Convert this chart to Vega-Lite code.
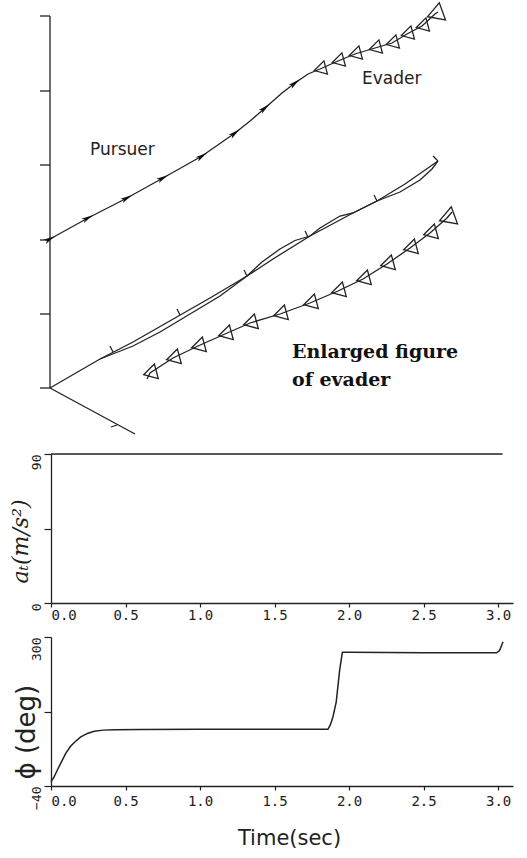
{
  "$schema": "https://vega.github.io/schema/vega-lite/v6.json",
  "background": "white",
  "padding": {"left": 9, "top": 0, "right": 0, "bottom": 4},
  "spacing": 14,
  "config": {
    "view": {"stroke": null},
    "axis": {
      "grid": false,
      "domainColor": "#222",
      "domainWidth": 1.3,
      "tickColor": "#222",
      "tickWidth": 1.2,
      "labelColor": "#222",
      "titleColor": "#222",
      "labelFont": "DejaVu Sans Mono",
      "titleFontWeight": "normal",
      "titleLimit": 400
    }
  },
  "datasets": {
    "frame": [
      {"u": 0, "v": 0, "u2": 0, "v2": 372},
      {"u": -10, "v": 372, "u2": 0, "v2": 372},
      {"u": -10, "v": 297, "u2": 0, "v2": 297},
      {"u": -10, "v": 223, "u2": 0, "v2": 223},
      {"u": -10, "v": 148, "u2": 0, "v2": 148},
      {"u": -10, "v": 74, "u2": 0, "v2": 74},
      {"u": -10, "v": 0, "u2": 0, "v2": 0},
      {"u": 0, "v": 0, "u2": 85, "v2": -46},
      {"u": 61, "v": -39, "u2": 67, "v2": -37},
      {"u": 63, "v": 36, "u2": 60, "v2": 42},
      {"u": 130, "v": 73, "u2": 127, "v2": 79},
      {"u": 197, "v": 112, "u2": 194, "v2": 118},
      {"u": 258, "v": 151, "u2": 255, "v2": 157},
      {"u": 327, "v": 187, "u2": 324, "v2": 193},
      {"u": 388, "v": 227, "u2": 383, "v2": 232}
    ],
    "curves": [
      {"id": "projA", "i": 0, "u": 0, "v": 0},
      {"id": "projA", "i": 1, "u": 50, "v": 29},
      {"id": "projA", "i": 2, "u": 83, "v": 46},
      {"id": "projA", "i": 3, "u": 125, "v": 70},
      {"id": "projA", "i": 4, "u": 160, "v": 90},
      {"id": "projA", "i": 5, "u": 197, "v": 112},
      {"id": "projA", "i": 6, "u": 223, "v": 129},
      {"id": "projA", "i": 7, "u": 260, "v": 152},
      {"id": "projA", "i": 8, "u": 303, "v": 175},
      {"id": "projA", "i": 9, "u": 327, "v": 187},
      {"id": "projA", "i": 10, "u": 355, "v": 204},
      {"id": "projA", "i": 11, "u": 388, "v": 227},
      {"id": "projB", "i": 0, "u": 50, "v": 29},
      {"id": "projB", "i": 1, "u": 83, "v": 42},
      {"id": "projB", "i": 2, "u": 110, "v": 56},
      {"id": "projB", "i": 3, "u": 140, "v": 74},
      {"id": "projB", "i": 4, "u": 170, "v": 92},
      {"id": "projB", "i": 5, "u": 197, "v": 112},
      {"id": "projB", "i": 6, "u": 212, "v": 126},
      {"id": "projB", "i": 7, "u": 230, "v": 139},
      {"id": "projB", "i": 8, "u": 245, "v": 147.5},
      {"id": "projB", "i": 9, "u": 260, "v": 152},
      {"id": "projB", "i": 10, "u": 270, "v": 160},
      {"id": "projB", "i": 11, "u": 290, "v": 172},
      {"id": "projB", "i": 12, "u": 303, "v": 175},
      {"id": "projB", "i": 13, "u": 327, "v": 187},
      {"id": "projB", "i": 14, "u": 350, "v": 196},
      {"id": "projB", "i": 15, "u": 370, "v": 208},
      {"id": "projB", "i": 16, "u": 382, "v": 219},
      {"id": "projB", "i": 17, "u": 388, "v": 227},
      {"id": "pursuer", "i": 0, "u": 0, "v": 149},
      {"id": "pursuer", "i": 1, "u": 38, "v": 170},
      {"id": "pursuer", "i": 2, "u": 77, "v": 190},
      {"id": "pursuer", "i": 3, "u": 113, "v": 210},
      {"id": "pursuer", "i": 4, "u": 152, "v": 232},
      {"id": "pursuer", "i": 5, "u": 185, "v": 255},
      {"id": "pursuer", "i": 6, "u": 200, "v": 267},
      {"id": "pursuer", "i": 7, "u": 215, "v": 280},
      {"id": "pursuer", "i": 8, "u": 232, "v": 295},
      {"id": "pursuer", "i": 9, "u": 245, "v": 305},
      {"id": "pursuer", "i": 10, "u": 258, "v": 314},
      {"id": "evader", "i": 0, "u": 258, "v": 314},
      {"id": "evader", "i": 1, "u": 270, "v": 319},
      {"id": "evader", "i": 2, "u": 288, "v": 327},
      {"id": "evader", "i": 3, "u": 305, "v": 334},
      {"id": "evader", "i": 4, "u": 325, "v": 340},
      {"id": "evader", "i": 5, "u": 342, "v": 345},
      {"id": "evader", "i": 6, "u": 357, "v": 354},
      {"id": "evader", "i": 7, "u": 372, "v": 362},
      {"id": "evader", "i": 8, "u": 385, "v": 374},
      {"id": "evader", "i": 9, "u": 388, "v": 376},
      {"id": "enlarged", "i": 0, "u": 97, "v": 9},
      {"id": "enlarged", "i": 1, "u": 100, "v": 15},
      {"id": "enlarged", "i": 2, "u": 123, "v": 30},
      {"id": "enlarged", "i": 3, "u": 148, "v": 42},
      {"id": "enlarged", "i": 4, "u": 175, "v": 54},
      {"id": "enlarged", "i": 5, "u": 200, "v": 65},
      {"id": "enlarged", "i": 6, "u": 230, "v": 74},
      {"id": "enlarged", "i": 7, "u": 260, "v": 85},
      {"id": "enlarged", "i": 8, "u": 288, "v": 97},
      {"id": "enlarged", "i": 9, "u": 313, "v": 109},
      {"id": "enlarged", "i": 10, "u": 337, "v": 124},
      {"id": "enlarged", "i": 11, "u": 360, "v": 140},
      {"id": "enlarged", "i": 12, "u": 380, "v": 155},
      {"id": "enlarged", "i": 13, "u": 397, "v": 170},
      {"id": "enlarged", "i": 14, "u": 402, "v": 176}
    ],
    "markers": [
      {"track": "pursuer", "role": "path", "u": 0, "v": 149, "heading": 29},
      {"track": "pursuer", "role": "path", "u": 38, "v": 170, "heading": 28},
      {"track": "pursuer", "role": "path", "u": 77, "v": 190, "heading": 29},
      {"track": "pursuer", "role": "path", "u": 113, "v": 210, "heading": 29},
      {"track": "pursuer", "role": "path", "u": 152, "v": 232, "heading": 33},
      {"track": "pursuer", "role": "path", "u": 185, "v": 255, "heading": 38},
      {"track": "pursuer", "role": "path", "u": 215, "v": 280, "heading": 40},
      {"track": "pursuer", "role": "path", "u": 245, "v": 305, "heading": 38},
      {"track": "evader", "role": "path", "u": 270, "v": 319, "heading": 25},
      {"track": "evader", "role": "path", "u": 288, "v": 327, "heading": 24},
      {"track": "evader", "role": "path", "u": 305, "v": 334, "heading": 22},
      {"track": "evader", "role": "path", "u": 325, "v": 340, "heading": 18},
      {"track": "evader", "role": "path", "u": 342, "v": 345, "heading": 20},
      {"track": "evader", "role": "path", "u": 357, "v": 354, "heading": 28},
      {"track": "evader", "role": "path", "u": 372, "v": 362, "heading": 30},
      {"track": "evader", "role": "final", "u": 385, "v": 374, "heading": 40},
      {"track": "enlarged", "role": "path", "u": 100, "v": 15, "heading": 33},
      {"track": "enlarged", "role": "path", "u": 123, "v": 30, "heading": 30},
      {"track": "enlarged", "role": "path", "u": 148, "v": 42, "heading": 26},
      {"track": "enlarged", "role": "path", "u": 175, "v": 54, "heading": 24},
      {"track": "enlarged", "role": "path", "u": 200, "v": 65, "heading": 21},
      {"track": "enlarged", "role": "path", "u": 230, "v": 74, "heading": 19},
      {"track": "enlarged", "role": "path", "u": 260, "v": 85, "heading": 21},
      {"track": "enlarged", "role": "path", "u": 288, "v": 97, "heading": 23},
      {"track": "enlarged", "role": "path", "u": 313, "v": 109, "heading": 27},
      {"track": "enlarged", "role": "path", "u": 337, "v": 124, "heading": 32},
      {"track": "enlarged", "role": "path", "u": 360, "v": 140, "heading": 35},
      {"track": "enlarged", "role": "path", "u": 380, "v": 155, "heading": 37},
      {"track": "enlarged", "role": "final", "u": 397, "v": 170, "heading": 40}
    ],
    "notes": [
      {"text": "Pursuer", "style": "sans", "u": 40, "v": 233},
      {"text": "Evader", "style": "sans", "u": 312, "v": 304},
      {"text": "Enlarged figure", "style": "serif", "u": 242, "v": 30},
      {"text": "of evader", "style": "serif", "u": 242, "v": 2}
    ],
    "accel": [
      {"t": 0, "a": 90},
      {"t": 3.03, "a": 90}
    ],
    "bank": [
      {"t": 0, "phi": -30},
      {"t": 0.02, "phi": -20},
      {"t": 0.042, "phi": -4},
      {"t": 0.07, "phi": 15},
      {"t": 0.098, "phi": 34},
      {"t": 0.13, "phi": 50},
      {"t": 0.165, "phi": 62},
      {"t": 0.2, "phi": 72},
      {"t": 0.244, "phi": 80},
      {"t": 0.29, "phi": 85},
      {"t": 0.35, "phi": 87.5},
      {"t": 0.43, "phi": 88.5},
      {"t": 0.6, "phi": 89},
      {"t": 1.0, "phi": 89.5},
      {"t": 1.5, "phi": 89.5},
      {"t": 1.858, "phi": 89.5},
      {"t": 1.875, "phi": 100},
      {"t": 1.892, "phi": 118},
      {"t": 1.914, "phi": 152},
      {"t": 1.937, "phi": 225},
      {"t": 1.955, "phi": 265},
      {"t": 2.0, "phi": 265},
      {"t": 2.5, "phi": 264},
      {"t": 2.99, "phi": 264},
      {"t": 3.01, "phi": 269},
      {"t": 3.033, "phi": 289}
    ]
  },
  "vconcat": [
    {
      "width": 476,
      "height": 436,
      "encoding": {
        "x": {"field": "u", "type": "quantitative", "scale": {"domain": [1, 477], "nice": false, "zero": false}, "axis": null},
        "y": {"field": "v", "type": "quantitative", "scale": {"domain": [-49, 387], "nice": false, "zero": false}, "axis": null}
      },
      "layer": [
        {
          "data": {"name": "frame"},
          "mark": {"type": "rule", "color": "#222", "strokeWidth": 1.3},
          "encoding": {"x2": {"field": "u2"}, "y2": {"field": "v2"}}
        },
        {
          "data": {"name": "curves"},
          "mark": {"type": "line", "color": "#222", "strokeWidth": 1.3},
          "encoding": {"detail": {"field": "id"}, "order": {"field": "i"}}
        },
        {
          "data": {"name": "markers"},
          "transform": [{"filter": "datum.track === 'pursuer'"}],
          "mark": {"type": "point", "shape": "M1,0L-1,-0.4L-0.55,0L-1,0.4Z", "filled": true, "color": "#111", "opacity": 1, "size": 150},
          "encoding": {"angle": {"field": "heading", "type": "quantitative", "scale": {"domain": [0, 360], "range": [360, 0]}}}
        },
        {
          "data": {"name": "markers"},
          "transform": [{"filter": "datum.track === 'evader' && datum.role === 'path'"}],
          "mark": {"type": "point", "shape": "triangle-left", "filled": false, "color": "#222", "opacity": 1, "strokeWidth": 1.3, "size": 185, "angle": 345}
        },
        {
          "data": {"name": "markers"},
          "transform": [{"filter": "datum.track === 'enlarged' && datum.role === 'path'"}],
          "mark": {"type": "point", "shape": "triangle-left", "filled": false, "color": "#222", "opacity": 1, "strokeWidth": 1.3, "size": 230, "angle": 345}
        },
        {
          "data": {"name": "markers"},
          "transform": [{"filter": "datum.role === 'final'"}],
          "mark": {"type": "point", "shape": "triangle-left", "filled": false, "color": "#222", "opacity": 1, "strokeWidth": 1.3, "size": 330, "angle": 340}
        },
        {
          "data": {"name": "notes"},
          "transform": [{"filter": "datum.style === 'sans'"}],
          "mark": {"type": "text", "font": "DejaVu Sans", "fontSize": 17, "align": "left", "baseline": "alphabetic", "color": "#222"},
          "encoding": {"text": {"field": "text"}}
        },
        {
          "data": {"name": "notes"},
          "transform": [{"filter": "datum.style === 'serif'"}],
          "mark": {"type": "text", "font": "DejaVu Serif", "fontSize": 19, "fontWeight": "bold", "align": "left", "baseline": "alphabetic", "color": "#111"},
          "encoding": {"text": {"field": "text"}}
        }
      ]
    },
    {
      "width": 462,
      "height": 149,
      "data": {"name": "accel"},
      "mark": {"type": "line", "color": "#222", "strokeWidth": 1.5},
      "encoding": {
        "x": {
          "field": "t", "type": "quantitative",
          "scale": {"domain": [0, 3.1], "nice": false},
          "axis": {"values": [0, 0.5, 1, 1.5, 2, 2.5, 3], "format": ".1f", "title": null, "labelFontSize": 14, "tickSize": 4, "labelPadding": 1}
        },
        "y": {
          "field": "a", "type": "quantitative",
          "scale": {"domain": [0, 90], "nice": false},
          "axis": {
            "values": [0, 45, 90],
            "labelExpr": "datum.value === 45 ? '' : datum.label",
            "labelAngle": -90, "labelAlign": "right", "labelBaseline": "middle",
            "labelFontSize": 13, "tickSize": 7, "labelPadding": 8,
            "title": "aₜ(m/s²)",
            "titleFont": "DejaVu Serif", "titleFontStyle": "italic", "titleFontSize": 22,
            "titleAngle": -90, "titleX": -31, "titleY": 87, "titleAlign": "center", "titleBaseline": "middle"
          }
        }
      }
    },
    {
      "width": 462,
      "height": 149,
      "data": {"name": "bank"},
      "mark": {"type": "line", "color": "#222", "strokeWidth": 1.5},
      "encoding": {
        "x": {
          "field": "t", "type": "quantitative",
          "scale": {"domain": [0, 3.1], "nice": false},
          "axis": {
            "values": [0, 0.5, 1, 1.5, 2, 2.5, 3], "format": ".1f", "labelFontSize": 14, "tickSize": 4, "labelPadding": 4,
            "title": "Time(sec)", "titleFont": "DejaVu Sans", "titleFontSize": 21,
            "titleX": 238, "titleY": 52, "titleAlign": "center", "titleBaseline": "middle"
          }
        },
        "y": {
          "field": "phi", "type": "quantitative",
          "scale": {"domain": [-40, 300], "nice": false, "zero": false},
          "axis": {
            "values": [-40, 130, 300],
            "labelExpr": "datum.value === 130 ? '' : datum.label",
            "labelAngle": -90, "labelAlign": "right", "labelBaseline": "middle",
            "labelFontSize": 13, "tickSize": 7, "labelPadding": 8,
            "title": "ϕ (deg)",
            "titleFont": "DejaVu Sans", "titleFontSize": 26,
            "titleAngle": -90, "titleX": -25, "titleY": 142, "titleAlign": "left", "titleBaseline": "middle"
          }
        }
      }
    }
  ]
}
